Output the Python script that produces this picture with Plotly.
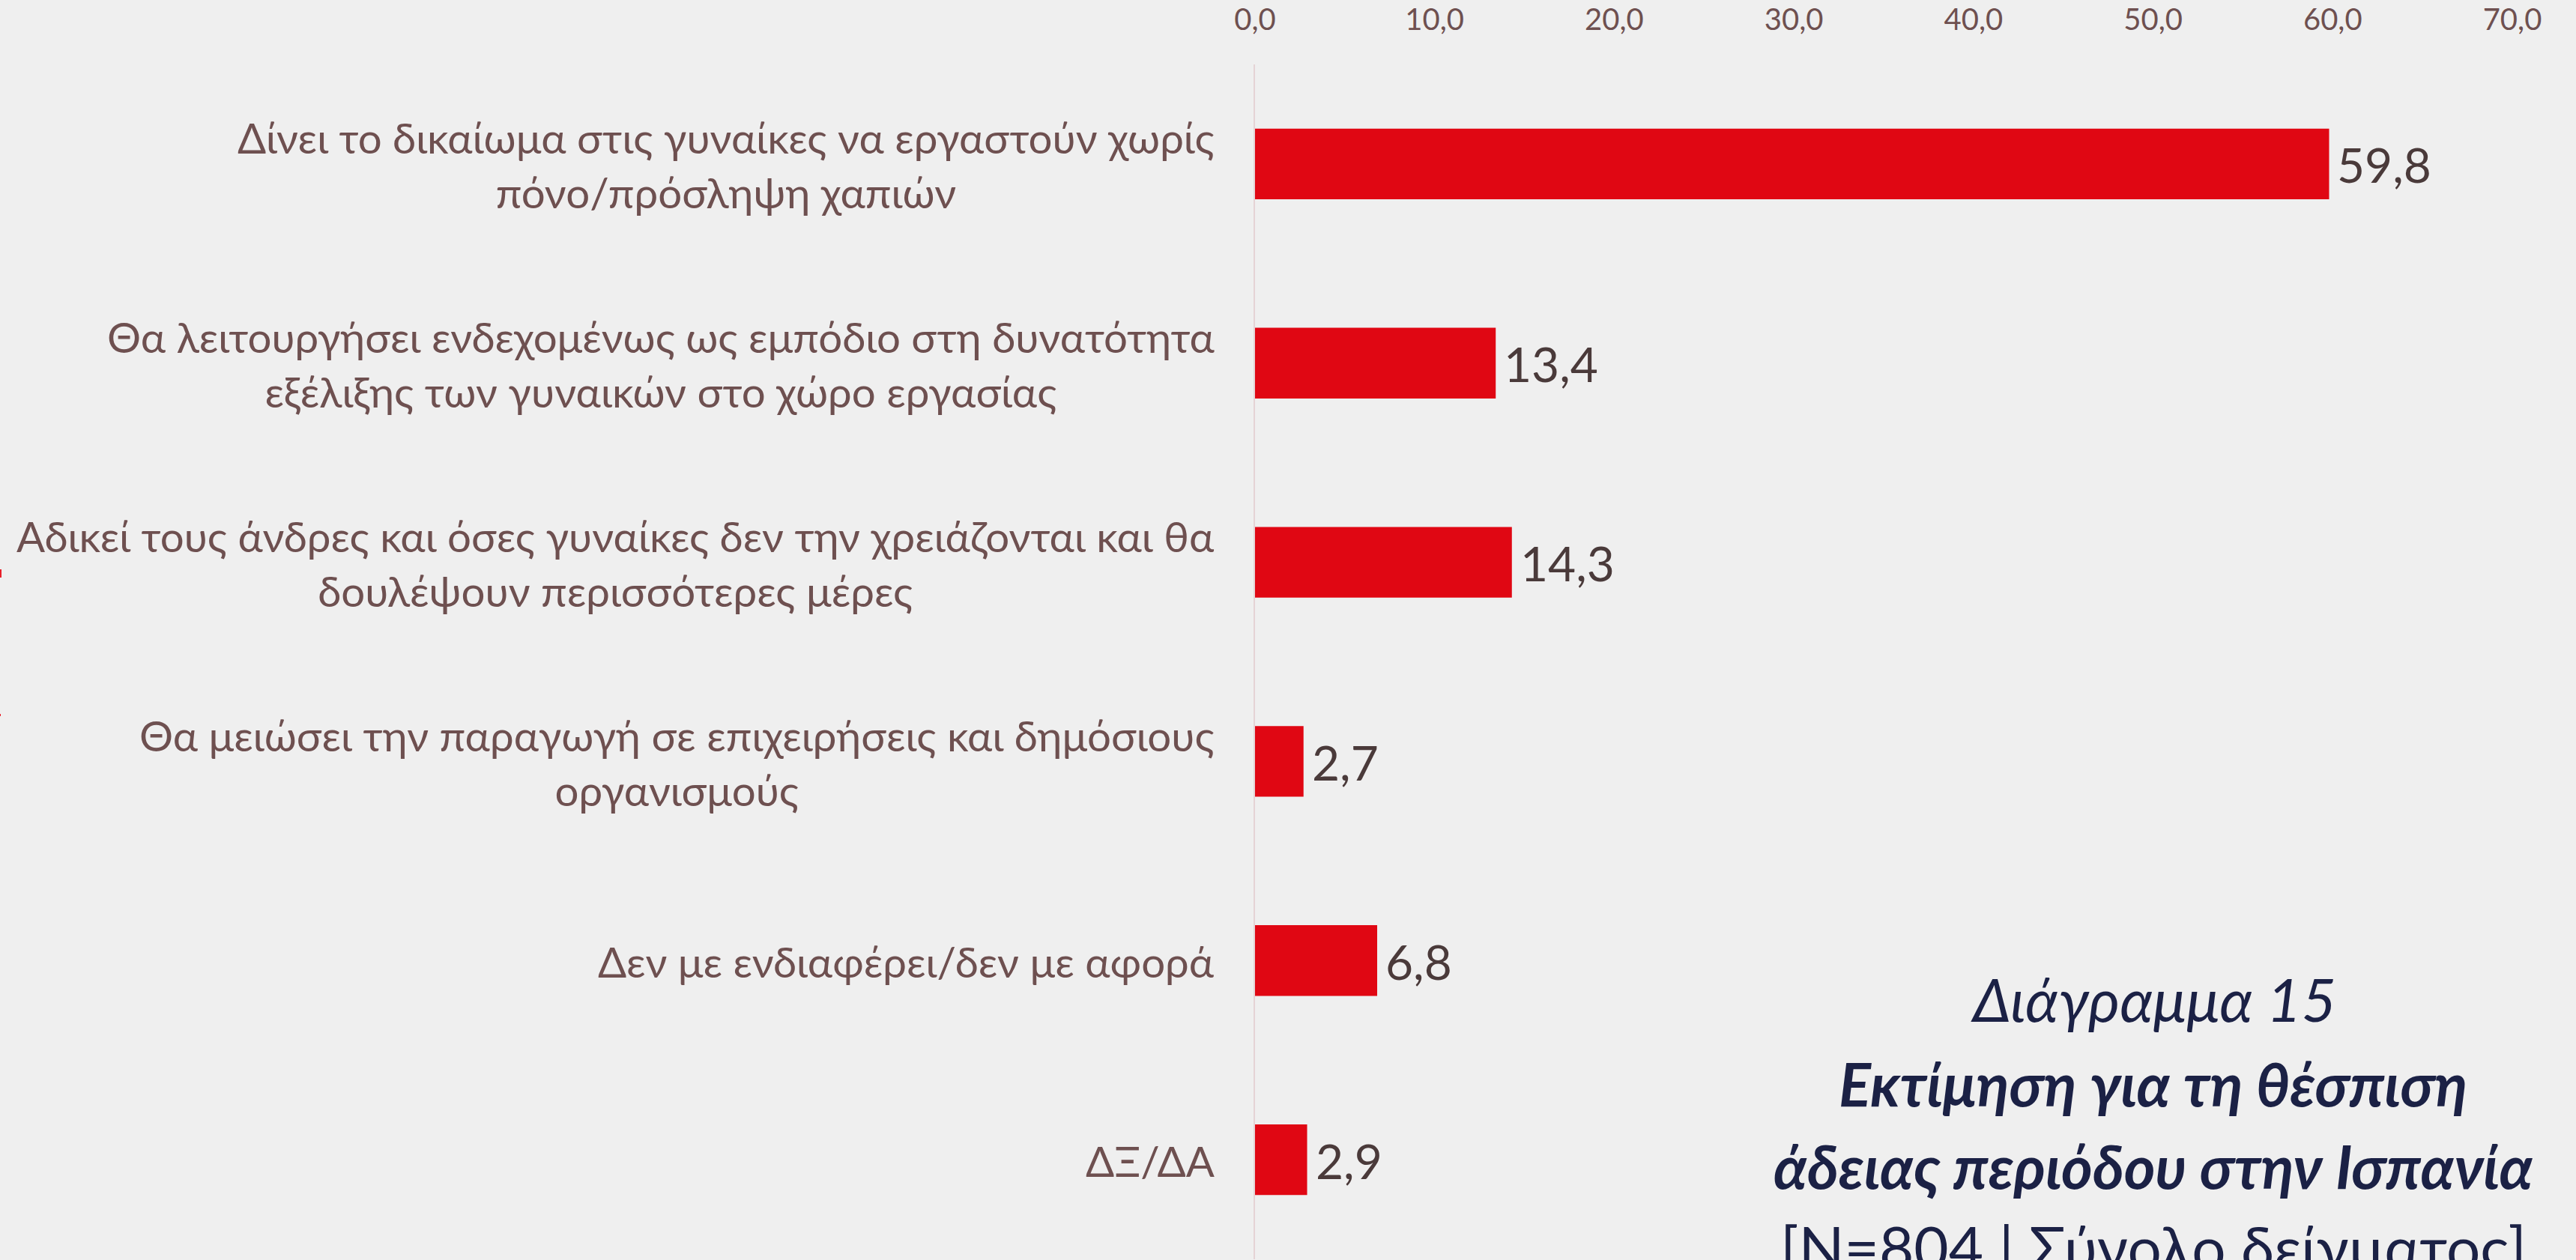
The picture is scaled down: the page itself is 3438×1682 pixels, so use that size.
import plotly.graph_objects as go

categories = [
    "Δίνει το δικαίωμα στις γυναίκες να εργαστούν χωρίς<br>πόνο/πρόσληψη χαπιών",
    "Θα λειτουργήσει ενδεχομένως ως εμπόδιο στη δυνατότητα<br>εξέλιξης των γυναικών στο χώρο εργασίας",
    "Αδικεί τους άνδρες και όσες γυναίκες δεν την χρειάζονται και θα<br>δουλέψουν περισσότερες μέρες",
    "Θα μειώσει την παραγωγή σε επιχειρήσεις και δημόσιους<br>οργανισμούς",
    "Δεν με ενδιαφέρει/δεν με αφορά",
    "ΔΞ/ΔΑ",
]
values = [59.8, 13.4, 14.3, 2.7, 6.8, 2.9]
tick_values = [0, 10, 20, 30, 40, 50, 60, 70]
tick_labels = ["0,0", "10,0", "20,0", "30,0", "40,0", "50,0", "60,0", "70,0"]
title_lines = [
    "<i>Διάγραμμα 15</i>",
    "<b><i>Εκτίμηση για τη θέσπιση</i></b>",
    "<b><i>άδειας περιόδου στην Ισπανία</i></b>",
    "[N=804 | Σύνολο δείγματος]",
]

W, H = 3438, 1682
ML, MR, MT, MB = 1675, 85, 86, 1
BG = "#efefef"
LABEL_C = "#6e5050"
VALUE_C = "#4a3a3a"
TITLE_C = "#1b2145"
plot_w = W - ML - MR
plot_h = H - MT - MB

fig = go.Figure()
fig.add_trace(go.Bar(
    x=values, y=categories, orientation="h",
    marker=dict(color="#e00713", line=dict(width=0)),
    hoverinfo="skip",
))

annotations = []
for c, v in zip(categories, values):
    annotations.append(dict(
        x=0, y=c, xref="x", yref="y", xanchor="right", yanchor="middle",
        xshift=-52, yshift=-1, text=c, showarrow=False, align="center",
        font=dict(family="Lato", size=56.4, color=LABEL_C),
    ))
    annotations.append(dict(
        x=v, y=c, xref="x", yref="y", xanchor="left", yanchor="middle",
        xshift=9, yshift=-1, text=f"{v:.1f}".replace(".", ","), showarrow=False,
        font=dict(family="Lato", size=64, color=VALUE_C),
    ))

title_centers_px = [1333, 1446, 1556, 1664]
for t, py in zip(title_lines, title_centers_px):
    annotations.append(dict(
        x=50, y=(H - MB - py) / plot_h, xref="x", yref="paper",
        xanchor="center", yanchor="middle", text=t, showarrow=False,
        font=dict(family="Lato", size=80, color=TITLE_C),
    ))

# small red fragments at the left edge of the original picture
shapes = []
for (x0, x1, y0, y1) in [(0, 2, 760, 771), (0, 1, 953, 956)]:
    shapes.append(dict(
        type="rect", xref="paper", yref="paper", line=dict(width=0),
        fillcolor="#e8202a",
        x0=(x0 - ML) / plot_w, x1=(x1 - ML) / plot_w,
        y0=(H - MB - y1) / plot_h, y1=(H - MB - y0) / plot_h,
    ))

fig.update_layout(
    width=W, height=H,
    margin=dict(l=ML, r=MR, t=MT, b=MB, pad=0),
    paper_bgcolor=BG, plot_bgcolor=BG,
    showlegend=False,
    bargap=0.645,
    annotations=annotations,
    shapes=shapes,
    xaxis=dict(
        range=[0, 70], side="top", tickvals=tick_values, ticktext=tick_labels,
        showgrid=False, zeroline=False, showline=False, ticks="",
        tickfont=dict(family="Lato", size=40, color=LABEL_C),
        ticklabelstandoff=37, fixedrange=True,
    ),
    yaxis=dict(
        categoryorder="array", categoryarray=categories, autorange="reversed",
        showticklabels=False, showgrid=False, zeroline=False,
        showline=True, linecolor="#e5d3d5", linewidth=2, ticks="",
        fixedrange=True,
    ),
)

fig.write_html(
    "out.html",
    config={"displayModeBar": False},
    post_script="document.body.style.margin='0';document.body.style.padding='0';"
                "document.body.style.overflow='hidden';"
                "document.body.style.background='" + BG + "';",
)
